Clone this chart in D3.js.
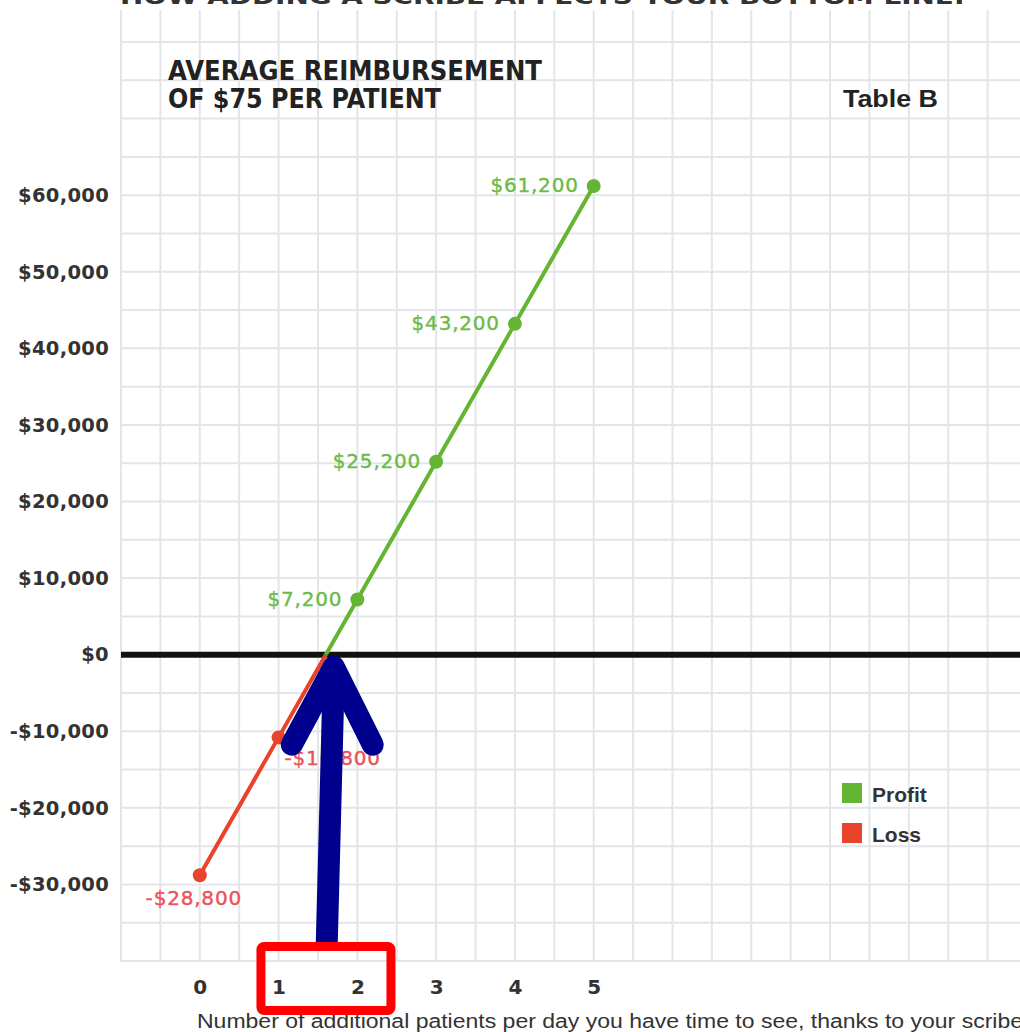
<!DOCTYPE html>
<html>
<head>
<meta charset="utf-8">
<script src="https://cdn.jsdelivr.net/npm/d3@7"></script>
<style>
  body { margin: 0; background: #fff; }
  svg { display: block; }
</style>
</head>
<body>
<script>
// values
const patients = [0, 1, 2, 3, 4, 5];
const netIncome = [-28800, -10800, 7200, 25200, 43200, 61200];
const yTickValues = [-30000, -20000, -10000, 0, 10000, 20000, 30000, 40000, 50000, 60000];
const xTickValues = [0, 1, 2, 3, 4, 5];
const legendNames = ["Profit", "Loss"];

const green = "#66b434", red = "#e8442c";
const greenText = "#6cbb47", redText = "#e9535a";

function main() {
    let svg = d3.select("body").append("svg")
        .attr("width", 1020)
        .attr("height", 1032);

    let x = d3.scaleLinear().domain([-1, 10.5]).range([121, 1027]);
    let y = d3.scaleLinear().domain([-40000, 80000]).range([961, 42]);

    // graph paper grid
    let grid = svg.append("g");
    grid.selectAll("line.v")
        .data(d3.range(-1, 10.6, 0.5))
        .join("line")
        .attr("x1", d => x(d)).attr("x2", d => x(d))
        .attr("y1", 10).attr("y2", y(-40000))
        .attr("stroke", "#e3e5e9")
        .attr("stroke-width", 2);
    grid.selectAll("line.h")
        .data(d3.range(-40000, 80001, 5000))
        .join("line")
        .attr("x1", x(-1)).attr("x2", 1020)
        .attr("y1", d => y(d)).attr("y2", d => y(d))
        .attr("stroke", "#e3e5e9")
        .attr("stroke-width", 2);

    // cut off headline at very top
    svg.append("text")
        .attr("x", 120).attr("y", 4)
        .attr("textLength", 845)
        .attr("lengthAdjust", "spacingAndGlyphs")
        .style("font", "bold 22px 'Liberation Sans Narrow', 'DejaVu Sans', sans-serif")
        .style("fill", "#333")
        .text("HOW ADDING A SCRIBE AFFECTS YOUR BOTTOM LINE:");

    // titles
    let titleFont = "bold 26px 'Liberation Sans Narrow', 'DejaVu Sans', sans-serif";
    svg.append("text")
        .attr("x", 168).attr("y", 80)
        .attr("textLength", 374).attr("lengthAdjust", "spacingAndGlyphs")
        .style("font", titleFont).style("fill", "#222")
        .text("AVERAGE REIMBURSEMENT");
    svg.append("text")
        .attr("x", 168).attr("y", 108)
        .attr("textLength", 273).attr("lengthAdjust", "spacingAndGlyphs")
        .style("font", titleFont).style("fill", "#222")
        .text("OF $75 PER PATIENT");
    svg.append("text")
        .attr("x", 843).attr("y", 107)
        .attr("textLength", 95).attr("lengthAdjust", "spacingAndGlyphs")
        .style("font", "bold 24px 'Liberation Sans', sans-serif").style("fill", "#222")
        .text("Table B");

    // axes (labels only)
    let fmt = v => (v < 0 ? "-$" : "$") + d3.format(",")(Math.abs(v));
    let yaxis = d3.axisLeft(y).tickValues(yTickValues).tickFormat(fmt).tickSize(0).tickPadding(12);
    let ya = svg.append("g").attr("transform", `translate(${x(-1)},0)`).call(yaxis);
    ya.select(".domain").remove();
    ya.selectAll("text")
        .style("font", "bold 19.5px 'DejaVu Sans', sans-serif")
        .style("letter-spacing", "0.3px")
        .style("fill", "#333");

    let xaxis = d3.axisBottom(x).tickValues(xTickValues).tickFormat(d => d).tickSize(0).tickPadding(19);
    let xa = svg.append("g").attr("transform", `translate(0,${y(-40000)})`).call(xaxis);
    xa.select(".domain").remove();
    xa.selectAll("text")
        .style("font", "bold 20px 'DejaVu Sans', sans-serif")
        .style("fill", "#333");

    svg.append("text")
        .attr("x", 197).attr("y", 1028)
        .attr("textLength", 826).attr("lengthAdjust", "spacingAndGlyphs")
        .style("font", "20px 'Liberation Sans', sans-serif")
        .style("fill", "#333")
        .text("Number of additional patients per day you have time to see, thanks to your scribe");

    // zero line
    svg.append("line")
        .attr("x1", x(-1)).attr("x2", 1020)
        .attr("y1", y(0)).attr("y2", y(0))
        .attr("stroke", "#111")
        .attr("stroke-width", 6);

    // one line through all points, coloured by sign with clip paths
    let pts = patients.map((p, i) => [p, netIncome[i]]);
    let defs = svg.append("defs");
    defs.append("clipPath").attr("id", "above")
        .append("rect").attr("x", 0).attr("y", 0).attr("width", 1020).attr("height", y(0));
    defs.append("clipPath").attr("id", "below")
        .append("rect").attr("x", 0).attr("y", y(0)).attr("width", 1020).attr("height", 1032 - y(0));

    let line = d3.line().x(d => x(d[0])).y(d => y(d[1]));
    svg.append("path").datum(pts)
        .attr("d", line).attr("clip-path", "url(#below)")
        .attr("fill", "none").attr("stroke", red).attr("stroke-width", 4);
    svg.append("path").datum(pts)
        .attr("d", line).attr("clip-path", "url(#above)")
        .attr("fill", "none").attr("stroke", green).attr("stroke-width", 4);

    svg.selectAll("circle.pt")
        .data(pts)
        .join("circle")
        .attr("cx", d => x(d[0])).attr("cy", d => y(d[1]))
        .attr("r", 7)
        .attr("fill", d => d[1] >= 0 ? green : red);

    // value labels
    let labelFont = "20px 'DejaVu Sans', sans-serif";
    svg.selectAll("text.profit")
        .data(pts.filter(d => d[1] >= 0))
        .join("text")
        .attr("x", d => x(d[0]) - 15)
        .attr("y", d => y(d[1]) + 6)
        .attr("text-anchor", "end")
        .style("font", labelFont).style("letter-spacing", "0.8px")
        .style("stroke", greenText).style("stroke-width", 0.4)
        .style("fill", greenText)
        .text(d => fmt(d[1]));

    let losses = pts.filter(d => d[1] < 0);
    svg.selectAll("text.loss")
        .data(losses)
        .join("text")
        .attr("x", (d, i) => i == 0 ? x(d[0]) - 6 : x(d[0]) + 6)
        .attr("y", (d, i) => y(d[1]) + (i == 0 ? 30 : 28))
        .attr("text-anchor", (d, i) => i == 0 ? "middle" : "start")
        .style("font", labelFont).style("letter-spacing", "0.8px")
        .style("stroke", redText).style("stroke-width", 0.4)
        .style("fill", redText)
        .text(d => fmt(d[1]));

    // legend
    let legend = svg.append("g").attr("transform", "translate(842,783)");
    legendNames.forEach((name, i) => {
        legend.append("rect")
            .attr("x", 0).attr("y", i * 40)
            .attr("width", 20).attr("height", 20)
            .attr("fill", i == 0 ? green : red);
        legend.append("text")
            .attr("x", 30).attr("y", i * 40 + 19)
            .style("font", "bold 21px 'Liberation Sans Narrow', 'Liberation Sans', sans-serif")
            .style("fill", "#333")
            .text(name);
    });

    // annotation: arrow pointing at the break-even point, box round 1 and 2
    let tip = [x(1.7), y(0) + 8];
    let arrow = svg.append("g")
        .attr("stroke", "#00008e")
        .attr("stroke-linecap", "round")
        .attr("stroke-linejoin", "round")
        .attr("fill", "none");
    arrow.append("path")
        .attr("d", `M${tip[0] - 7},945 L${tip[0]},${tip[1] + 14}`)
        .attr("stroke-width", 22)
        .attr("stroke-linecap", "butt");
    arrow.append("path")
        .attr("d", `M${tip[0] - 42},${tip[1] + 82} L${tip[0]},${tip[1] + 4} L${tip[0] + 39},${tip[1] + 82}`)
        .attr("stroke-width", 22);

    svg.append("rect")
        .attr("x", (x(1) + x(2)) / 2 - 57).attr("y", 946.5)
        .attr("width", 130).attr("height", 64)
        .attr("rx", 3)
        .attr("fill", "none")
        .attr("stroke", "#ff0000")
        .attr("stroke-width", 9);
}

main()
</script>
</body>
</html>
